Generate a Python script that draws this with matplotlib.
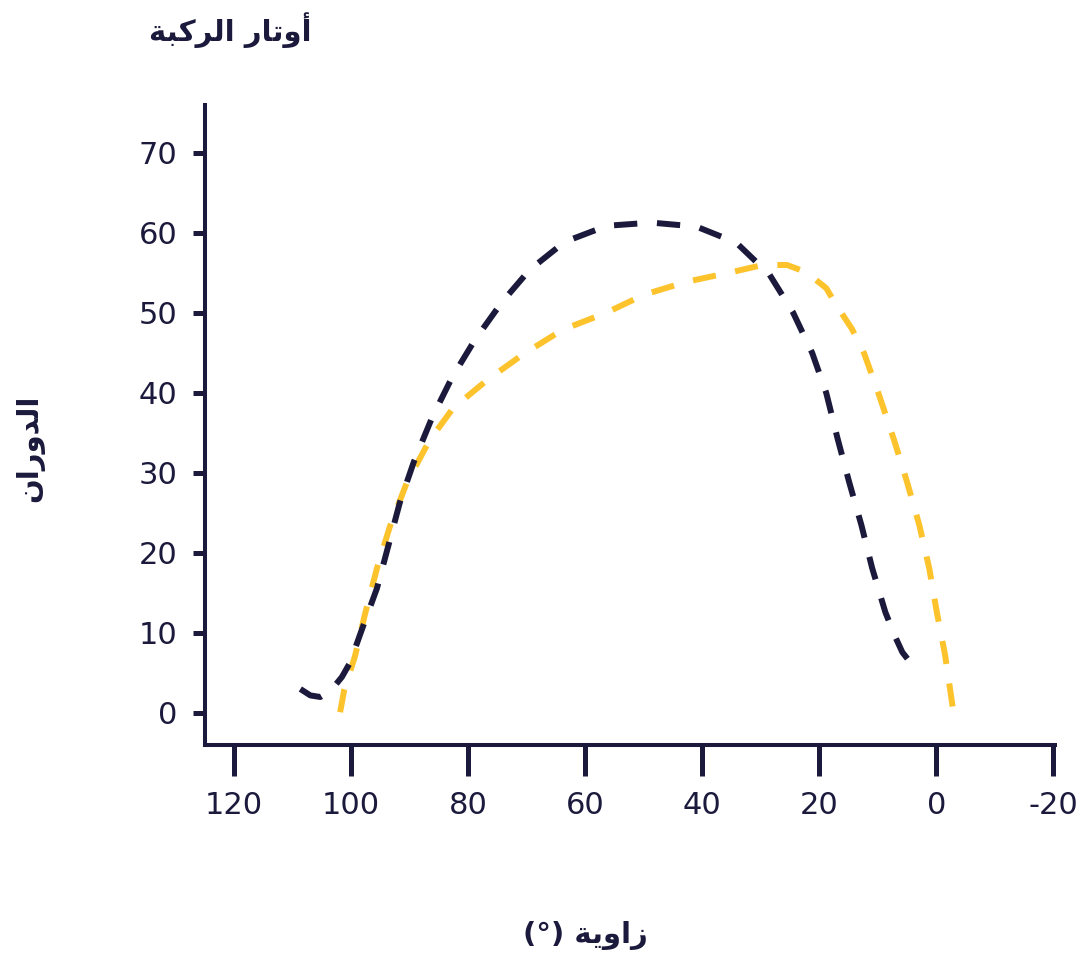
import matplotlib
matplotlib.use("Agg")
import matplotlib.pyplot as plt

# ---- data ----
dark_x = [108.7, 107.0, 105.3, 103.5, 101.6, 100.2, 98.2, 95.6, 93.7, 91.7, 89.3, 86.2, 82.8, 78.9, 74.3,
          69.5, 63.5, 56.3, 48.7, 41.0, 34.2, 28.5, 24.5, 21.2, 18.8, 16.9, 14.9, 12.8, 10.95, 8.7, 7.0, 5.8, 4.3]
dark_y = [3.0, 2.2, 2.0, 2.8, 4.5, 6.3, 10.4, 15.6, 20.8, 26.3, 31.4, 36.9, 41.9, 46.6, 51.3,
          55.4, 58.9, 60.9, 61.3, 60.8, 58.8, 54.8, 50.1, 45.0, 40.0, 34.4, 28.9, 23.5, 18.1, 12.6, 9.5, 7.6, 6.2]
gold_x = [101.9, 101.2, 99.4, 97.6, 95.6, 93.4, 90.5, 86.6, 82.6, 76.8, 70.7, 63.9, 56.5, 49.9, 42.7, 35.0,
          29.7, 25.5, 22.2, 18.8, 17.1, 14.4, 12.3, 9.8, 7.2, 5.0, 2.9, 1.2, -0.1, -1.5, -2.9]
gold_y = [0.1, 2.9, 7.0, 12.5, 18.1, 23.3, 28.8, 34.1, 38.1, 41.6, 44.8, 47.9, 50.0, 52.3, 53.9, 55.1,
          56.0, 56.0, 55.1, 53.1, 51.0, 48.0, 44.9, 39.8, 34.1, 28.9, 23.5, 18.1, 12.6, 7.3, 0.3]
x_ticks = [120, 100, 80, 60, 40, 20, 0, -20]
y_ticks = [0, 10, 20, 30, 40, 50, 60, 70]

# Arabic text in presentation forms (visual order)
title_txt = "\uFE94\uFE92\uFEDB\uFEAE\uFEDF\uFE8D \uFEAD\uFE8E\uFE97\uFEED\uFE83"   # أوتار الركبة
ylabel_txt = "\uFEE5\uFE8D\uFEAD\uFEED\uFEAA\uFEDF\uFE8D"                      # الدوران
xlabel_txt = "(°) \uFE94\uFEF3\uFEED\uFE8D\uFEAF"                               # زاوية (°)

NAVY = "#1b1a3c"
GOLD = "#fdc32d"

fig = plt.figure(figsize=(10.87, 9.57), dpi=100)
ax = fig.add_axes([205/1087, 1-745/957, (1055-205)/1087, (745-105)/957])

ax.plot(dark_x, dark_y, color=NAVY, lw=4.3, dashes=(3.9, 3.3), dash_capstyle="butt", zorder=3)
ax.plot(gold_x, gold_y, color=GOLD, lw=4.3, dashes=(3.9, 3.3), dash_capstyle="butt", zorder=2)

ax.set_xlim(125, -20.3)
ax.set_ylim(-4, 76)
ax.set_xticks(x_ticks)
ax.set_yticks(y_ticks)
ax.set_xticklabels([str(v) for v in x_ticks])
ax.set_yticklabels([str(v) for v in y_ticks])

for s in ["top", "right"]:
    ax.spines[s].set_visible(False)
for s in ["left", "bottom"]:
    ax.spines[s].set_linewidth(2.9)
    ax.spines[s].set_color(NAVY)

ax.tick_params(axis="x", length=22, width=3.6, color=NAVY, pad=11, labelsize=22, labelcolor=NAVY)
ax.tick_params(axis="y", length=9, width=3.6, color=NAVY, pad=11, labelsize=22, labelcolor=NAVY)
for lab in ax.get_xticklabels() + ax.get_yticklabels():
    lab.set_family("DejaVu Sans")

fig.text(230/1087, 1-30/957, title_txt, ha="center", va="center", fontsize=21,
         fontweight="bold", family="DejaVu Sans", color=NAVY)
fig.text(30/1087, 1-448/957, ylabel_txt, ha="center", va="center", rotation=90, fontsize=21,
         fontweight="bold", family="DejaVu Sans", color=NAVY)
fig.text(585/1087, 1-935/957, xlabel_txt, ha="center", va="center", fontsize=21,
         fontweight="bold", family="DejaVu Sans", color=NAVY)

fig.savefig("out.png", dpi=100)
